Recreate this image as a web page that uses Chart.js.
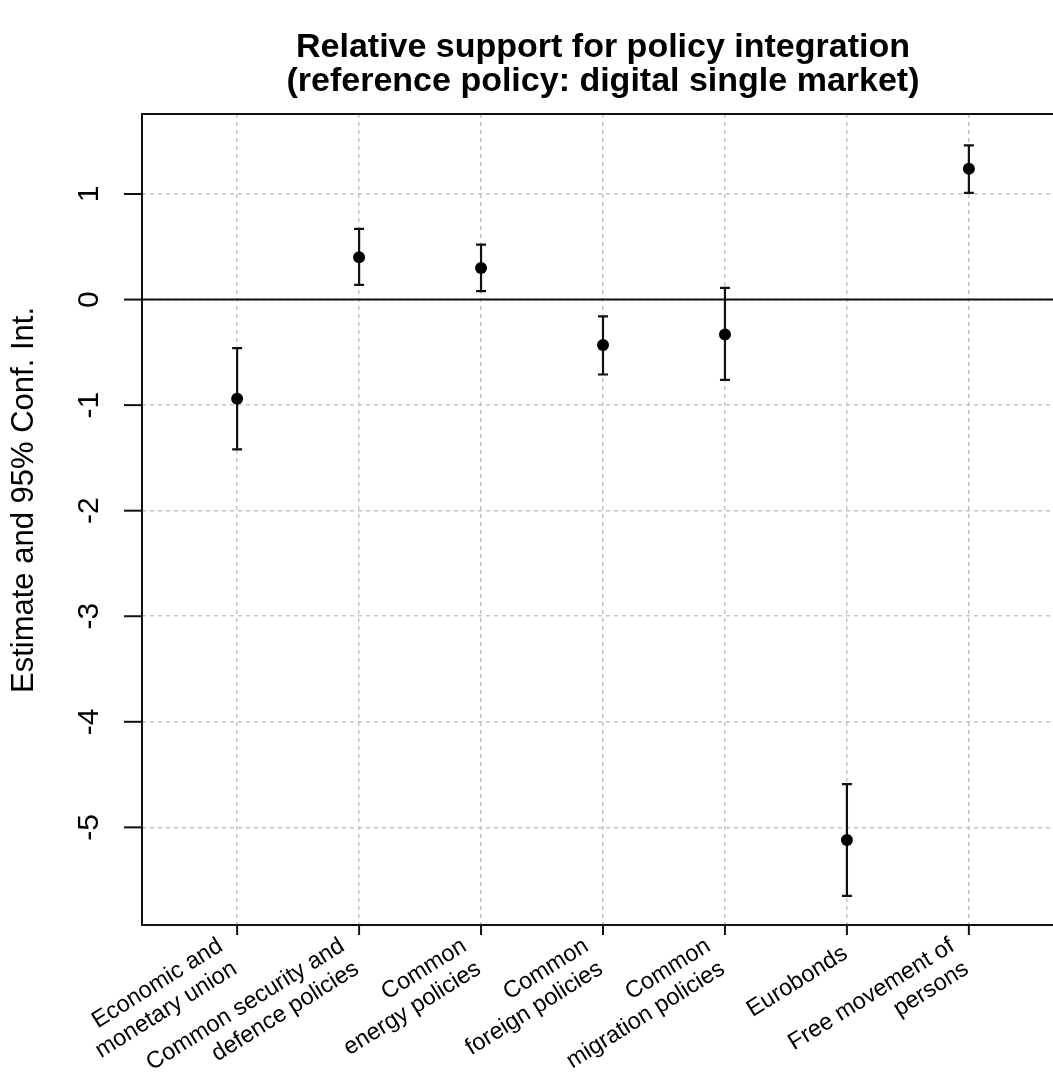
<!DOCTYPE html>
<html>
<head>
<meta charset="utf-8">
<script src="https://cdn.jsdelivr.net/npm/chart.js@4/dist/chart.umd.min.js"></script>
<style>
  html, body { margin: 0; padding: 0; background: #fff; overflow: hidden; }
  #wrap { width: 1053px; height: 1075px; overflow: hidden; }
  canvas { display: block; }
</style>
</head>
<body>
<div id="wrap"><canvas id="chart" width="1100" height="1075"></canvas></div>
<script>
// Policy areas, relative to the digital single market
const categories = [
    ['Economic and', 'monetary union'],
    ['Common security and', 'defence policies'],
    ['Common', 'energy policies'],
    ['Common', 'foreign policies'],
    ['Common', 'migration policies'],
    ['Eurobonds'],
    ['Free movement of', 'persons']
];
const estimates = [-0.94, 0.40, 0.30, -0.43, -0.33, -5.12, 1.24];
const lowerCI = [-1.42, 0.14, 0.08, -0.71, -0.76, -5.65, 1.01];
const upperCI = [-0.46, 0.67, 0.52, -0.16, 0.11, -4.59, 1.46];
const yTicks = [-5, -4, -3, -2, -1, 0, 1];

const titleLines = ['Relative support for policy integration', '(reference policy: digital single market)'];
const yTitle = 'Estimate and 95% Conf. Int.';

const FONT = '"Liberation Sans", Arial, Helvetica, sans-serif';

const points = estimates.map((v, i) => ({ x: i + 1, y: v }));

// error bars, frame, zero line and all the rotated text
const decorations = {
    id: 'decorations',
    beforeDatasetsDraw(chart) {
        const { ctx, scales: { x, y } } = chart;
        ctx.save();
        ctx.strokeStyle = '#111';
        ctx.lineWidth = 2.2;
        estimates.forEach((_, i) => {
            const px = x.getPixelForValue(i + 1);
            const lo = y.getPixelForValue(lowerCI[i]);
            const hi = y.getPixelForValue(upperCI[i]);
            ctx.beginPath();
            ctx.moveTo(px, lo); ctx.lineTo(px, hi);
            ctx.moveTo(px - 5, lo); ctx.lineTo(px + 5, lo);
            ctx.moveTo(px - 5, hi); ctx.lineTo(px + 5, hi);
            ctx.stroke();
        });
        // reference line at zero
        const y0 = y.getPixelForValue(0);
        ctx.lineWidth = 2;
        ctx.beginPath();
        ctx.moveTo(chart.chartArea.left, y0);
        ctx.lineTo(chart.chartArea.right, y0);
        ctx.stroke();
        ctx.restore();
    },
    afterDraw(chart) {
        const { ctx, chartArea: a, scales: { x, y } } = chart;
        ctx.save();
        ctx.strokeStyle = '#111';
        ctx.fillStyle = '#000';
        ctx.lineWidth = 2;
        ctx.strokeRect(a.left, a.top, a.right - a.left, a.bottom - a.top);

        // y ticks and labels
        ctx.font = '30px ' + FONT;
        ctx.textAlign = 'center';
        ctx.textBaseline = 'alphabetic';
        yTicks.forEach(t => {
            const py = y.getPixelForValue(t);
            ctx.beginPath();
            ctx.moveTo(a.left - 18, py); ctx.lineTo(a.left, py);
            ctx.stroke();
            ctx.save();
            ctx.translate(98, py);
            ctx.rotate(-Math.PI / 2);
            ctx.fillText(String(t), 0, 0);
            ctx.restore();
        });

        // y axis title
        ctx.font = '31px ' + FONT;
        ctx.save();
        ctx.translate(33, 500);
        ctx.rotate(-Math.PI / 2);
        ctx.fillText(yTitle, 0, 0);
        ctx.restore();

        // x ticks and slanted category labels, lines right-aligned
        const ang = 32 * Math.PI / 180;
        const lh = 27;
        ctx.font = '23.5px ' + FONT;
        ctx.textAlign = 'right';
        ctx.textBaseline = 'alphabetic';
        categories.forEach((lines, i) => {
            const px = x.getPixelForValue(i + 1);
            ctx.beginPath();
            ctx.moveTo(px, a.bottom); ctx.lineTo(px, a.bottom + 10);
            ctx.stroke();
            const two = lines.length > 1;
            ctx.save();
            ctx.translate(px + (two ? -6 : 2), two ? 961 : 957);
            ctx.rotate(-ang);
            lines.forEach((s, j) => {
                ctx.fillText(s, 0, (j - (lines.length - 1) / 2) * lh);
            });
            ctx.restore();
        });

        // title
        ctx.font = 'bold 34px ' + FONT;
        ctx.textAlign = 'center';
        ctx.textBaseline = 'middle';
        const cx = (a.left + a.right) / 2;
        ctx.fillText(titleLines[0], cx, 48);
        ctx.fillText(titleLines[1], cx, 82);
        ctx.restore();
    }
};

new Chart(document.getElementById('chart'), {
    type: 'scatter',
    data: {
        datasets: [{
            data: points,
            backgroundColor: '#000',
            borderColor: '#000',
            pointRadius: 6,
            borderWidth: 0
        }]
    },
    options: {
        responsive: false,
        animation: false,
        events: [],
        layout: { padding: { left: 142, top: 114, right: 36, bottom: 150 } },
        plugins: { legend: { display: false }, tooltip: { enabled: false }, title: { display: false } },
        scales: {
            x: {
                type: 'linear',
                min: 0.22,
                max: 7.78,
                afterBuildTicks: s => { s.ticks = categories.map((_, i) => ({ value: i + 1 })); },
                ticks: { display: false },
                grid: { color: '#c4c4c4', lineWidth: 1.5, drawTicks: false },
                border: { display: false, dash: [4, 4] }
            },
            y: {
                min: -5.925,
                max: 1.758,
                afterBuildTicks: s => { s.ticks = yTicks.map(v => ({ value: v })); },
                ticks: { display: false },
                grid: { color: '#c4c4c4', lineWidth: 1.5, drawTicks: false },
                border: { display: false, dash: [4, 4] }
            }
        }
    },
    plugins: [decorations]
});
</script>
</body>
</html>
